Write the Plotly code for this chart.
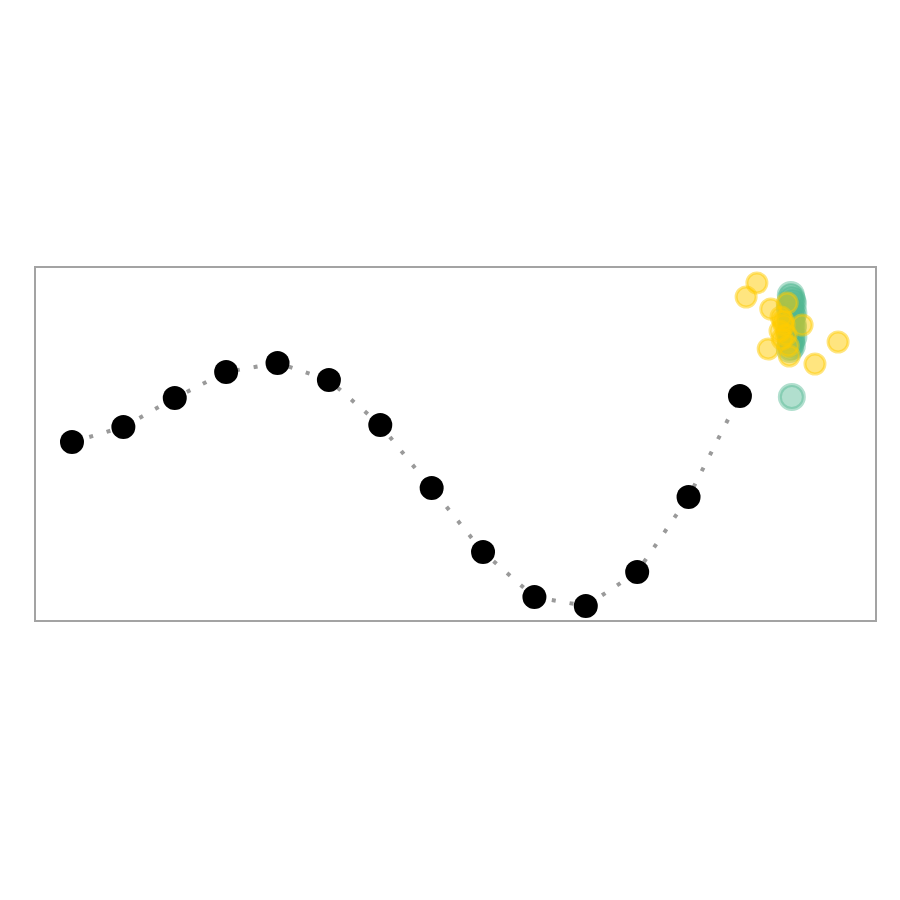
import plotly.graph_objects as go

# Main series (black points joined by dotted line)
series_x = list(range(14))
series_y = [1.80, 1.95, 2.24, 2.50, 2.59, 2.42, 1.97, 1.34, 0.70, 0.25, 0.16, 0.50, 1.25, 2.26]

# Green samples at the next step
green_x = [13.99, 14.02, 13.97, 14.04, 13.99, 14.03, 13.97, 14.04, 13.99, 13.97,
           14.00, 14.03, 13.98, 14.02, 13.99, 14.03, 13.98, 14.00, 14.01, 14.01]
green_y = [3.27, 3.21, 3.15, 3.09, 3.03, 2.97, 2.91, 2.85, 2.79, 2.73,
           3.24, 3.18, 3.12, 3.06, 3.00, 2.94, 2.88, 2.82, 2.76, 2.25]

# Yellow samples
yellow_x = [13.33, 13.12, 13.60, 13.92, 14.21, 14.91, 13.55, 13.96, 14.46,
            13.80, 13.86, 13.78, 13.90, 13.82, 13.94, 13.84]
yellow_y = [3.39, 3.25, 3.13, 3.19, 2.97, 2.80, 2.73, 2.66, 2.58,
            3.05, 2.97, 2.91, 2.87, 2.83, 2.76, 3.01]

fig = go.Figure()
fig.add_trace(go.Scatter(
    x=series_x, y=series_y, mode="lines",
    line=dict(color="#9a9a9a", width=4, dash="4px,14px"),
    hoverinfo="skip", showlegend=False))
fig.add_trace(go.Scatter(
    x=series_x, y=series_y, mode="markers",
    marker=dict(color="black", size=24, line=dict(width=0)),
    showlegend=False))
fig.add_trace(go.Scatter(
    x=green_x, y=green_y, mode="markers",
    marker=dict(color="rgba(82,184,147,0.45)", size=24,
                line=dict(color="rgba(82,184,147,0.45)", width=4)),
    showlegend=False))
fig.add_trace(go.Scatter(
    x=yellow_x, y=yellow_y, mode="markers",
    marker=dict(color="rgba(255,204,0,0.5)", size=20,
                line=dict(color="rgba(255,204,0,0.5)", width=3)),
    showlegend=False))

fig.add_shape(type="rect", xref="paper", yref="paper", x0=0, x1=1, y0=0, y1=1,
              line=dict(color="#a3a3a3", width=2), layer="below")

fig.update_xaxes(range=[-0.72, 15.648], showgrid=False, zeroline=False,
                 showticklabels=False, ticks="")
fig.update_yaxes(range=[0.01, 3.55], showgrid=False, zeroline=False,
                 showticklabels=False, ticks="")
fig.update_layout(width=900, height=900, plot_bgcolor="white", paper_bgcolor="white",
                  margin=dict(l=35, r=24, t=267, b=279))
fig.write_html("out.html")
